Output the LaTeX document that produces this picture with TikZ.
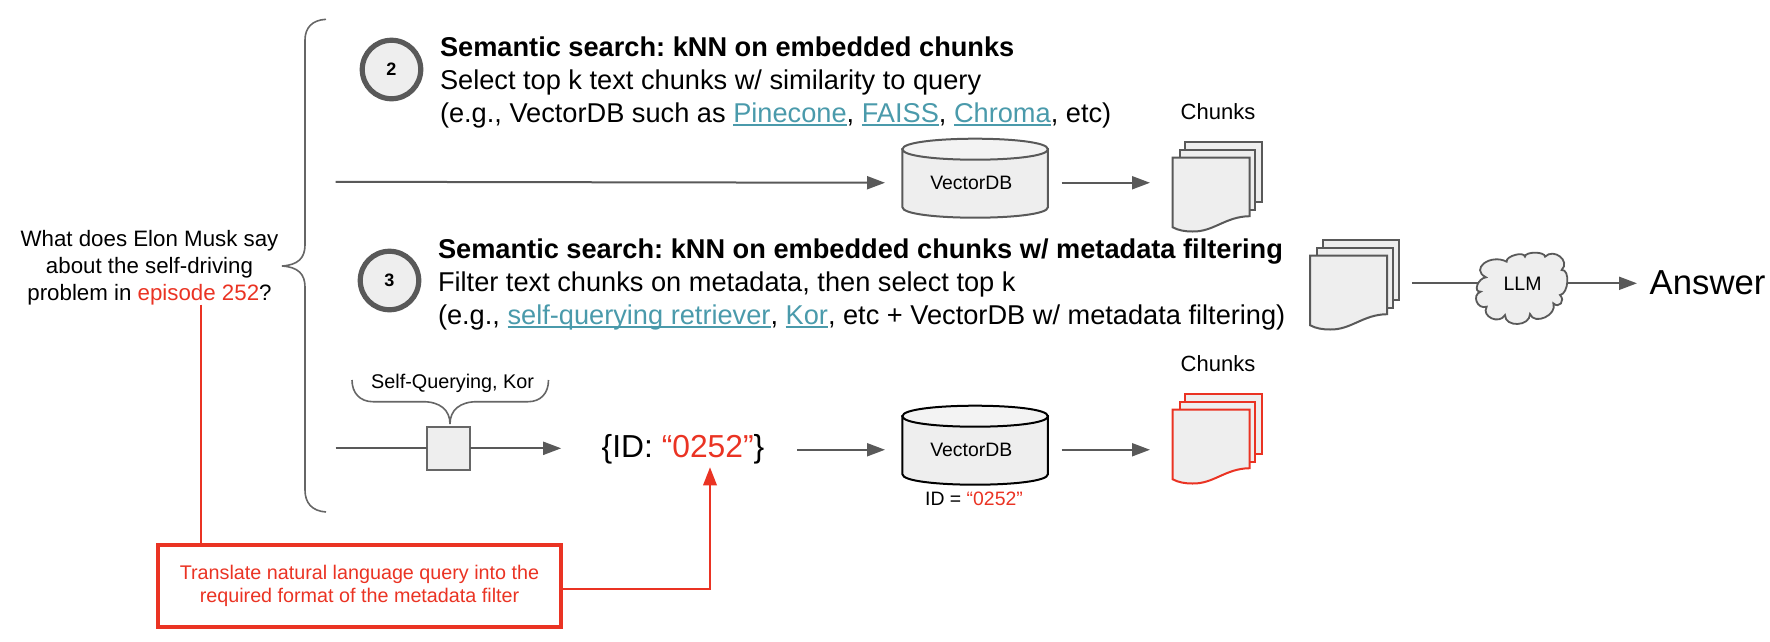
\documentclass[tikz,border=0pt]{standalone}
\usepackage{fontspec}
\setmainfont{Liberation Sans}
\usetikzlibrary{arrows.meta}
\definecolor{cg}{HTML}{595959}
\definecolor{cb}{HTML}{666666}
\definecolor{pagef}{HTML}{EEEEEE}
\definecolor{topf}{HTML}{F3F3F3}
\definecolor{rd}{HTML}{EA3323}
\definecolor{lk}{HTML}{4A9AAB}
\newcommand{\fsz}[2]{\fontsize{#1pt}{#2pt}\selectfont\frenchspacing}
\newcommand{\rr}[1]{\textcolor{rd}{#1}}
\newcommand{\lnk}[1]{\setbox0\hbox{#1}\textcolor{lk}{\rlap{\rule[-3.8pt]{\wd0}{2.2pt}}#1}}
\newcommand{\firstln}[1]{\rule{0pt}{#1pt}}
\tikzset{
  every node/.style={inner sep=0pt,outer sep=0pt},
  arr/.style={draw=cg,line width=2pt,-{Triangle[length=18pt,width=13pt]}},
  plainln/.style={draw=cg,line width=2pt},
  brc/.style={draw=cb,line width=1.6pt},
  redln/.style={draw=rd,line width=2pt},
  redarr/.style={draw=rd,line width=2pt,-{Triangle[length=18pt,width=13.5pt]}},
  stepcircle/.style={circle,draw=cg,line width=5.2pt,fill=pagef,minimum size=58.5pt,font=\fsz{18}{18}\bfseries},
  chunklbl/.style={font=\fsz{22}{26}},
  block/.style={anchor=north west,align=left,font=\fsz{27.2}{33}},
  dbbody/.style={minimum width=145.5pt,minimum height=69pt,font=\fsz{19.4}{23}},
}
% cylinder outline: #1 = vertical offset, #2 = stroke
\newcommand{\dbshape}[2]{%
  \begin{scope}[shift={(0.4,#1)}]
    \filldraw[draw=#2,fill=pagef,line width=2pt] (902,148.5) -- (902,206.5)
      .. controls (902,220.5) and (1047.5,220.5) .. (1047.5,206.5) -- (1047.5,148.5) -- cycle;
    \filldraw[draw=#2,fill=topf,line width=2pt] (902,148.5)
      .. controls (902,134.5) and (1047.5,134.5) .. (1047.5,148.5)
      .. controls (1047.5,162.5) and (902,162.5) .. (902,148.5) -- cycle;
  \end{scope}}
% stack of pages: #1 = node name, #2,#3 = offset, #4 = stroke
\newcommand{\docstack}[4]{%
  \begin{scope}[shift={(#2,#3)}]
    \filldraw[draw=#4,fill=pagef,line width=2pt] (1184.7,141.7) rectangle (1261.4,201);
    \filldraw[draw=#4,fill=pagef,line width=2pt] (1179,149.7) rectangle (1254.6,209);
    \filldraw[draw=#4,fill=pagef,line width=2pt] (1172,157) -- (1249,157) -- (1249,215.7)
      .. controls (1225,216) and (1213,231.5) .. (1192,231)
      .. controls (1185,231) and (1178,230) .. (1172,226.7) -- cycle;
    \node[minimum width=89.4pt,minimum height=89pt] (#1) at (1216.7,186.2) {};
  \end{scope}}
\begin{document}
\begin{tikzpicture}[x=1pt,y=-1pt]
\useasboundingbox (0,0) rectangle (1770,641);

% question
\node[anchor=north,align=center,font=\fsz{22.3}{27}] (q) at (149.5,229)
  {\firstln{17}What does Elon Musk say\\about the self-driving\\problem in \rr{episode 252}?};

% big brace
\draw[brc] (326,19.3) .. controls (312,20) and (305,28) .. (305,40) -- (305,245)
  .. controls (305,258) and (298,265) .. (282,266)
  .. controls (298,267) and (305,274) .. (305,287) -- (305,490)
  .. controls (305,503) and (312,511) .. (326,512);

% step circles
\node[stepcircle] (c2) at (391.5,69.5) {2};
\node[stepcircle] (c3) at (389.5,280.5) {3};

% text blocks
\node[block] (t2) at (440,36)
  {\firstln{20}\textbf{Semantic search: kNN on embedded chunks}\\
   Select top k text chunks w/ similarity to query\\
   (e.g., VectorDB such as \lnk{Pinecone}, \lnk{FAISS}, \lnk{Chroma}, etc)};
\node[block] (t3) at (438,238)
  {\firstln{20}\textbf{Semantic search: kNN on embedded chunks w/ metadata filtering}\\
   Filter text chunks on metadata, then select top k\\
   (e.g., \lnk{self-querying retriever}, \lnk{Kor}, etc + VectorDB w/ metadata filtering)};

% upper row
\coordinate (in1) at (335.5,181.8);
\dbshape{0.7}{cg}
\node[dbbody] (db1) at (974.75,182.75) {\hspace*{-7pt}VectorDB};
\docstack{d1}{0.5}{0.5}{cg}
\node[chunklbl,anchor=base] (ch1) at (1218,119) {Chunks};
\draw[arr] (in1) -- ([xshift=-17pt]db1.west);
\draw[arr] ([xshift=14pt]db1.east) -- ([xshift=-22.5pt]db1.east -| d1.west);

% right side
\docstack{d2}{138}{98.5}{cg}
\filldraw[draw=cg,fill=pagef,line width=1.8pt,shift={(1460,240)},x=0.3333pt,y=-0.3333pt]
  (62,155) .. controls (38,157) and (54,114) .. (78,112)
  .. controls (29,87) and (91,40) .. (140,65)
  .. controls (137,48) and (192,33) .. (195,50)
  .. controls (195,34) and (255,34) .. (255,50)
  .. controls (282,23) and (332,63) .. (305,90)
  .. controls (331,87) and (326,162) .. (300,165)
  .. controls (317,182) and (297,207) .. (280,190)
  .. controls (293,225) and (223,257) .. (210,222)
  .. controls (210,260) and (135,263) .. (135,225)
  .. controls (118,255) and (63,230) .. (80,200)
  .. controls (52,210) and (34,165) .. (62,155) -- cycle;
\node[minimum width=88pt,minimum height=68pt,font=\fsz{19.5}{23}] (llm) at (1522.6,283.3) {\raisebox{-6pt}{LLM}};
\node[anchor=base west,font=\fsz{34.7}{40}] (ans) at (1649.7,294) {Answer};
\draw[plainln] ([xshift=12.5pt]d2.east |- llm.west) -- (llm.west);
\draw[arr] (llm.east) -- ([xshift=-12.7pt]llm.east -| ans.west);

% lower row
\coordinate (in2) at (335.5,448.3);
\node[draw=cb,fill=pagef,line width=2pt,minimum width=43pt,minimum height=43.3pt] (bx) at (448.5,448.3) {};
\node[anchor=base,font=\fsz{19.8}{23}] (sq) at (452.6,388) {Self-Querying, Kor};
\draw[brc] (352,380) .. controls (352,393) and (360,401.7) .. (373,401.7) -- (423,401.7)
  .. controls (440,401.7) and (450,410) .. (450,424)
  .. controls (450,410) and (460,401.7) .. (477,401.7) -- (528,401.7)
  .. controls (541,401.7) and (548.5,393) .. (548.5,380);
\node[anchor=base,font=\fsz{31.8}{36}] (idf) at (683,457) {\{ID: \rr{“0252”}\}};
\draw[plainln] (in2) -- (bx.west);
\draw[arr] (bx.east) -- ([xshift=-40.5pt]bx.east -| idf.west);
\dbshape{267.7}{black}
\node[dbbody] (db2) at (974.75,449.75) {\hspace*{-7pt}VectorDB};
\node[anchor=base,font=\fsz{19.4}{23}] (idl) at (974,505.7) {ID = \rr{“0252”}};
\docstack{d3}{0.5}{252.5}{rd}
\node[chunklbl,anchor=base] (ch2) at (1218,371) {Chunks};
\draw[arr] ([xshift=33pt]db2.west -| idf.east) -- ([xshift=-17pt]db2.west);
\draw[arr] ([xshift=14pt]db2.east) -- ([xshift=-22.5pt]db2.east -| d3.west);

% red annotation
\node[draw=rd,line width=4pt,minimum width=403pt,minimum height=82pt,align=center,
      text=rd,font=\fsz{19.75}{23.3}] (rb) at (359.5,586)
  {Translate natural language query into the\\required format of the metadata filter};
\coordinate (idtip) at (710,467.3);
\draw[redln] ([xshift=51pt]q.south) -- ([xshift=51pt]q.south |- rb.north);
\draw[redarr] ([yshift=-3.3pt]rb.east) -| (idtip);
\end{tikzpicture}
\end{document}
